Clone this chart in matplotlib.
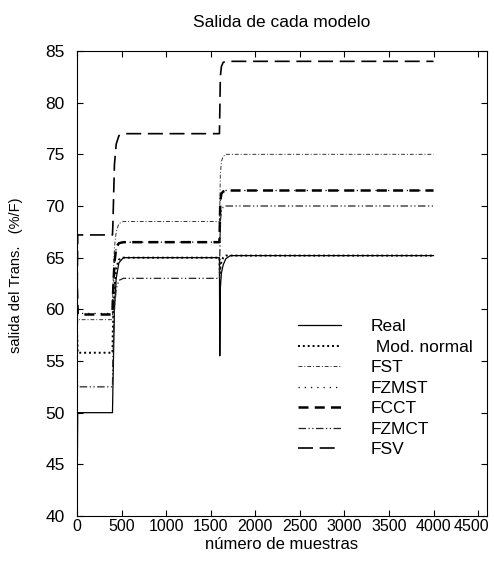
import matplotlib
matplotlib.use('Agg')
import matplotlib.pyplot as plt
from matplotlib.transforms import ScaledTranslation

# sample positions (steps at ~400 and ~1600)
muestras = [0, 8, 398, 402, 420, 440, 470, 520, 1598, 1602, 1608, 1620, 1640, 1670, 1720, 4000]

real = [40, 50, 50, 52, 60, 63, 64.5, 65, 65, 55.5, 62, 63.5, 64.3, 64.9, 65.2, 65.2]
mod_normal = [58, 55.8, 55.8, 58, 62, 64, 64.8, 65, 65, 63.5, 64, 64.6, 65, 65.2, 65.2, 65.2]
fst = [56, 59, 59, 62, 66, 67.5, 68.3, 68.5, 68.5, 70, 73, 74.3, 74.8, 75, 75, 75]
fzmst = [61, 59.6, 59.6, 61, 64.5, 66, 66.4, 66.5, 66.5, 68, 70.5, 71.2, 71.4, 71.5, 71.5, 71.5]
fcct = [62, 59.5, 59.5, 61, 64.5, 66, 66.4, 66.5, 66.5, 68, 70.5, 71.2, 71.4, 71.5, 71.5, 71.5]
fzmct = [54, 52.5, 52.5, 55, 60, 62, 62.8, 63, 63, 65, 68.5, 69.5, 69.9, 70, 70, 70]
fsv = [60, 67.2, 67.2, 68, 74, 76, 76.8, 77, 77, 79, 82.5, 83.5, 83.9, 84, 84, 84]

nombres = ['Real', ' Mod. normal', 'FST', 'FZMST', 'FCCT', 'FZMCT', 'FSV']

plt.rcParams['font.family'] = ['Liberation Sans', 'DejaVu Sans']

fig = plt.figure(figsize=(4.94, 5.62), dpi=100)
ax = fig.add_axes([77/494, 1 - 516/562, (487-77)/494, (516-51)/562])

ax.plot(muestras, real, color='black', lw=0.9, ls='-')
ax.plot(muestras, mod_normal, color='black', lw=1.4, ls=(0, (1, 1.5)))
ax.plot(muestras, fst, color='#333333', lw=0.7, ls=(0, (4, 2, 1, 2)))
ax.plot(muestras, fzmst, color='black', lw=0.9, ls=(0, (1, 4)))
ax.plot(muestras, fcct, color='black', lw=1.8, ls=(0, (4, 2.5)))
ax.plot(muestras, fzmct, color='#222222', lw=0.9, ls=(0, (6, 2, 1, 2, 1, 2)))
ax.plot(muestras, fsv, color='black', lw=1.2, ls=(0, (9, 4)))

ax.legend(ax.lines, nombres, loc='upper left',
          bbox_to_anchor=((298 - 77) / 410, (516 - 319) / 465),
          borderpad=0, borderaxespad=0,
          frameon=False, fontsize=12.5, handlelength=2.5, labelspacing=0.31,
          handletextpad=1.7)

ax.set_xlim(0, 4600)
ax.set_ylim(40, 85)
ax.set_xticks(range(0, 4501, 500))
ax.set_yticks(range(40, 86, 5))
ax.tick_params(direction='in', top=True, right=True, labelsize=12.5, length=4)
ax.tick_params(axis='x', pad=2, labelsize=11.5)
ax.tick_params(axis='y', pad=9)
for s in ax.spines.values():
    s.set_linewidth(0.8)

# last x label sits flush with the right border, as in the original
fig.canvas.draw()
ultimo = ax.get_xticklabels()[-1]
ultimo.set_horizontalalignment('right')
ultimo.set_transform(ultimo.get_transform() + ScaledTranslation(8/72, 0, fig.dpi_scale_trans))

ax.set_title('Salida de cada modelo', fontsize=12.5, pad=17)
ax.set_xlabel('número de muestras', fontsize=12, labelpad=2)
ax.set_ylabel('salida del Trans.   (%/F)', fontsize=10.5,
              family=['Liberation Sans Narrow', 'Liberation Sans', 'DejaVu Sans'])
ax.yaxis.set_label_coords((23 - 77) / 410, (516 - 275) / 465)

fig.savefig('out.png', dpi=100)
